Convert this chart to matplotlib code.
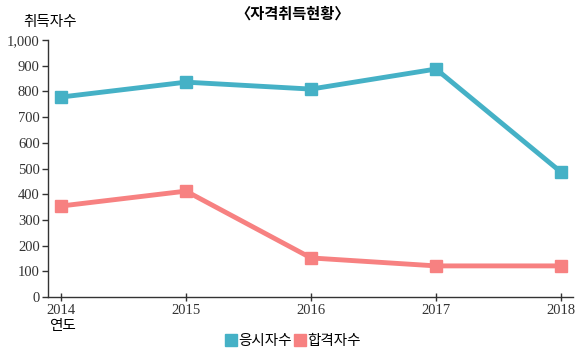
import matplotlib
matplotlib.use("Agg")
import matplotlib.pyplot as plt
from matplotlib.lines import Line2D

years = [2014, 2015, 2016, 2017, 2018]
applicants = [778, 836, 809, 887, 486]
passed = [354, 412, 152, 121, 121]
series_names = ["응시자수", "합격자수"]
colors = ["#45b1c6", "#f78181"]
yticks = [0, 100, 200, 300, 400, 500, 600, 700, 800, 900, 1000]

kr = ["Noto Sans CJK KR", "DejaVu Sans"]
W, H = 579, 354
fig = plt.figure(figsize=(W/100, H/100), dpi=100)
ax = fig.add_axes([48/W, 1-297/H, (573-48)/W, (297-40)/H])

for vals, c in zip([applicants, passed], colors):
    ax.plot(years, vals, color=c, lw=3.5, marker="s", markersize=9, zorder=3)

ax.set_xlim(2013.896, 2018.096)
ax.set_ylim(0, 1000)
ax.set_xticks(years)
ax.set_xticklabels([str(y) for y in years], family="Liberation Serif", fontsize=10.5, color="#333333")
ax.set_yticks(yticks)
ax.set_yticklabels([f"{v:,}" for v in yticks], family="Liberation Serif", fontsize=10.5, color="#333333")
for s in ["top", "right"]:
    ax.spines[s].set_visible(False)
for s in ["left", "bottom"]:
    ax.spines[s].set_color("#333333")
    ax.spines[s].set_linewidth(1)
ax.tick_params(axis="both", length=4, width=1, color="#333333", pad=2)
ax.tick_params(axis="x", direction="inout", length=6)

fig.text(293/W, 1-14/H, "〈자격취득현황〉", ha="center", va="center", family=kr, fontsize=11, fontweight="bold")
fig.text(50/W, 1-22/H, "취득자수", ha="center", va="center", family=kr, fontsize=10.5)
fig.text(62/W, 1-326/H, "연도", ha="center", va="center", family=kr, fontsize=10.5)

handles = [Line2D([], [], color=c, marker="s", lw=0, markersize=8) for c in colors]
fig.legend(handles, series_names, loc="center", bbox_to_anchor=(293/W, 1-341/H), ncol=2,
           frameon=False, prop={"family": kr, "size": 10.5}, handletextpad=0.1, columnspacing=0.2,
           handlelength=0.8)

fig.savefig("out.png", dpi=100)
